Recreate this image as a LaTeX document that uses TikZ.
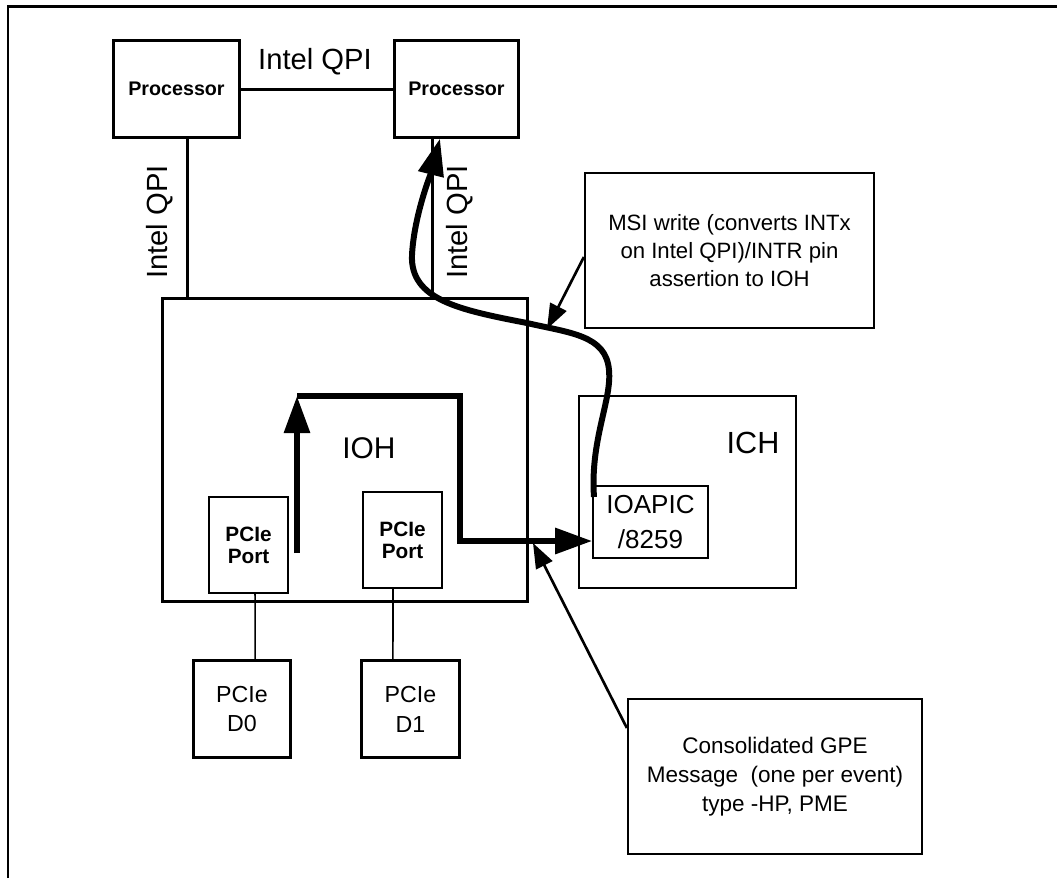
\documentclass[tikz,border=0pt]{standalone}
\usepackage{fontspec}
\setmainfont{Liberation Sans}
\usetikzlibrary{arrows.meta}
\tikzset{box/.style={draw,line width=0.85pt,inner sep=0pt,align=center},
 thinbox/.style={draw,line width=0.43pt,inner sep=0pt,align=center},
 notebox/.style={draw,line width=0.6pt,inner sep=0pt,align=center},
 link/.style={line width=0.85pt},thinlink/.style={line width=0.43pt},
 flow/.style={line width=1.7pt,-{Triangle[length=0.37cm,width=0.25cm]}},
 callout/.style={line width=0.75pt,-{Triangle[length=0.25cm,width=0.18cm]}}}
\newcommand{\fsz}[2]{\fontsize{#1}{#2}\selectfont}

\begin{document}
\begin{tikzpicture}[x=0.01cm,y=-0.01cm]
\useasboundingbox (0,0) rectangle (1057,878);
\draw[line width=0.85pt] (8,878)--(8,6)--(1057,6);
% processors
\node[box,minimum width=1.25cm,minimum height=0.96cm,font=\bfseries\fsz{5.6}{7}] (proca) at (176.5,89) {Processor};
\node[box,minimum width=1.23cm,minimum height=0.96cm,font=\bfseries\fsz{5.6}{7}] (procb) at (456.5,89) {Processor};
\node[font=\fsz{8.3}{10}] (qpitop) at (315,62) {Intel QPI};
% IOH
\node[box,minimum width=3.64cm,minimum height=3.02cm] (ioh) at (345,450) {};
\node[font=\fsz{8.5}{10}] (iohlabel) at (369,448) {IOH};
\node[thinbox,minimum width=0.79cm,minimum height=0.96cm,font=\bfseries\fsz{5.9}{6.2}] (pone) at (248.5,545) {PCIe\\Port};
\node[thinbox,minimum width=0.79cm,minimum height=0.96cm,font=\bfseries\fsz{5.9}{6.2}] (ptwo) at (402.5,540) {PCIe\\Port};
\node[box,minimum width=0.96cm,minimum height=0.96cm,font=\fsz{6.6}{8.5}] (dzero) at (242,709) {PCIe\\D0};
\node[box,minimum width=0.97cm,minimum height=0.96cm,font=\fsz{6.6}{8.5}] (done) at (410.5,709) {PCIe\\D1};
% ICH
\node[thinbox,minimum width=2.17cm,minimum height=1.92cm] (ich) at (687.5,492) {};
\node[font=\fsz{8.7}{10}] (ichlabel) at (753,443) {ICH};
\node[thinbox,minimum width=1.15cm,minimum height=0.72cm,font=\fsz{7.4}{10}] (ioapic) at (650.5,522) {IOAPIC\\/8259};
% notes
\node[notebox,minimum width=2.89cm,minimum height=1.55cm,font=\fsz{6.3}{8}] (msi) at (729.5,250.5)
 {MSI write (converts INTx\\on Intel QPI)/INTR pin\\assertion to IOH};
\node[notebox,minimum width=2.94cm,minimum height=1.55cm,font=\fsz{6.4}{8.3}] (gpe) at (775,776.5)
 {Consolidated GPE\\Message\ \ (one per event)\\type -HP, PME};
% links
\draw[link] (proca)--(procb);
\draw[link] ([xshift=0.105cm]proca.south) coordinate (qa)--(qa |- ioh.north);
\draw[link] ([xshift=-0.235cm]procb.south) coordinate (qb)--(qb |- ioh.north);
\node[font=\fsz{8.3}{10},rotate=90] (qpileft) at (160,222) {Intel QPI};
\node[font=\fsz{8.3}{10},rotate=90] (qpiright) at (460,222) {Intel QPI};
\draw[thinlink] ([xshift=0.065cm]pone.south)--([xshift=0.13cm]dzero.north);
\draw[thinlink] ([xshift=-0.095cm]ptwo.south)--([xshift=-0.175cm]done.north);
% interrupt flow
\coordinate (portout) at (297,553);
\coordinate (bend) at (297,396);
\draw[flow] (portout)--(bend);
\draw[flow,line join=miter] (bend)-|(460,541)--(ioapic.west |- 460,541);
\draw[flow] (594,497) .. controls (590,440) and (612,400) .. (609,370)
 .. controls (606,335) and (570,333) .. (527,323)
 .. controls (460,310) and (410,300) .. (412,255)
 .. controls (414,215) and (432,170) .. ([xshift=-0.165cm]procb.south);
\coordinate (msitip) at (547,329);
\coordinate (gpetip) at (533,543);
\draw[callout] ([yshift=-0.065cm]msi.west)--(msitip);
\draw[callout] ([yshift=0.485cm]gpe.west)--(gpetip);
\end{tikzpicture}
\end{document}
